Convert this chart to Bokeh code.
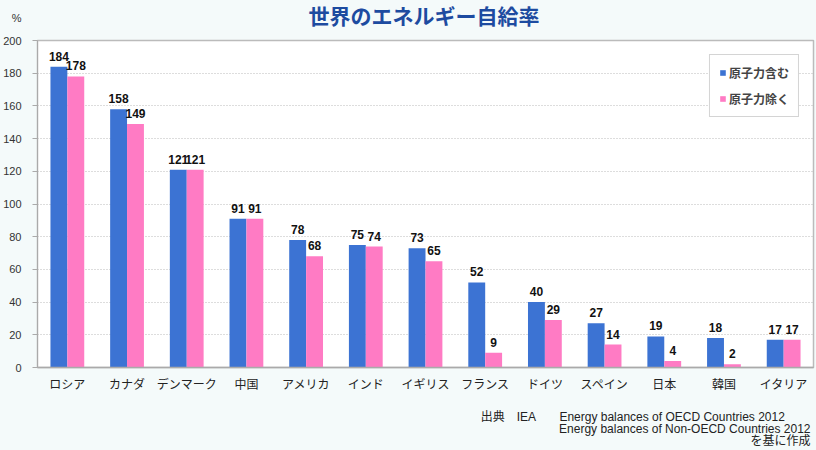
from bokeh.plotting import figure
from bokeh.models import (ColumnDataSource, Range1d, FactorRange, Legend, LegendItem,
                          LabelSet, SingleIntervalTicker, Title)
from bokeh.core.properties import value
from bokeh.transform import dodge
from bokeh.embed import file_html
from bokeh.resources import INLINE

countries = ["ロシア", "カナダ", "デンマーク", "中国", "アメリカ", "インド", "イギリス",
             "フランス", "ドイツ", "スペイン", "日本", "韓国", "イタリア"]
with_nuclear = [184, 158, 121, 91, 78, 75, 73, 52, 40, 27, 19, 18, 17]
without_nuclear = [178, 149, 121, 91, 68, 74, 65, 9, 29, 14, 4, 2, 17]
series_names = ["原子力含む", "原子力除く"]
title_text = "世界のエネルギー自給率"
unit_text = "%"
source_lines = ["出典　IEA　　Energy balances of OECD Countries 2012",
                "Energy balances of Non-OECD Countries 2012", "を基に作成"]

BLUE = "#3c73d3"
PINK = "#ff7bc4"
BG = "#f4fafa"
JP = "Noto Sans CJK JP"
NUM = "Liberation Sans"
MIX = "Liberation Sans, Noto Sans CJK JP"

src = ColumnDataSource(dict(
    c=countries, a=with_nuclear, b=without_nuclear,
    la=[str(v) for v in with_nuclear], lb=[str(v) for v in without_nuclear],
))

p = figure(x_range=FactorRange(*countries, range_padding=0), y_range=Range1d(0, 200),
           width=816, height=450, output_backend="svg", toolbar_location=None,
           min_border_left=35, min_border_right=3, min_border_top=40, min_border_bottom=83)
p.background_fill_color = "white"
p.border_fill_color = BG
p.outline_line_color = "#bbbbbb"
p.outline_line_width = 1.5
p.title.text = ""

# spacer + main title above the frame
p.add_layout(Title(text="\u3000", text_font_size="1px", standoff=12,
                   text_color=BG), "above")
p.add_layout(Title(text=title_text, align="left", offset=271, standoff=-8,
                   text_font=JP, text_font_size="21px", text_font_style="bold",
                   text_color="#1d4ba0"), "above")

bw = 0.283
r1 = p.vbar(x=dodge("c", -bw / 2, range=p.x_range), top="a", width=bw, source=src,
            fill_color=BLUE, line_color=None)
r2 = p.vbar(x=dodge("c", bw / 2, range=p.x_range), top="b", width=bw, source=src,
            fill_color=PINK, line_color=None)

for col, lab, off in (("a", "la", -bw / 2), ("b", "lb", bw / 2)):
    ls = LabelSet(x=dodge("c", off, range=p.x_range), y=col, text=lab, source=src,
                  text_align="center", text_baseline="bottom", y_offset=6,
                  text_font=value(NUM), text_font_size=value("12px"), text_color="#111111",
                  text_font_style="bold")
    p.add_layout(ls)

# axes
p.yaxis.ticker = SingleIntervalTicker(interval=20)
p.yaxis.major_label_overrides = {200: unit_text + "\n \n200\n \n "}
p.yaxis.major_label_text_line_height = 0.95
p.yaxis.major_label_text_font = NUM
p.yaxis.major_label_text_font_size = "11px"
p.yaxis.major_label_text_color = "#333333"
p.yaxis.axis_line_color = "#aaaaaa"
p.yaxis.major_tick_line_color = "#aaaaaa"
p.yaxis.major_tick_out = 5
p.yaxis.major_tick_in = 0
p.yaxis.minor_tick_line_color = None
p.yaxis.major_label_standoff = 11

p.xaxis.major_label_text_font = JP
p.xaxis.major_label_text_font_size = "12px"
p.xaxis.major_label_text_color = "#222222"
p.xaxis.axis_line_color = "#aaaaaa"
p.xaxis.axis_line_width = 1.5
p.xaxis.major_tick_line_color = None
p.xaxis.minor_tick_line_color = None
p.xaxis.major_label_standoff = 1

p.xgrid.grid_line_color = None
p.ygrid.grid_line_color = "#bbbbbb"
p.ygrid.grid_line_dash = "1 2"

legend = Legend(items=[LegendItem(label=series_names[0], renderers=[r1]),
                       LegendItem(label=series_names[1], renderers=[r2])],
                location="top_right", margin=14, padding=9, spacing=9,
                glyph_width=7, glyph_height=7, label_standoff=3,
                label_text_font=JP, label_text_font_size="12px",
                label_text_font_style="bold",
                border_line_color="#aaaaaa", background_fill_color="white",
                background_fill_alpha=1)
p.add_layout(legend)

# source note below the plot: spacer, then one title per line
p.add_layout(Title(text="\u3000", text_font_size="1px", standoff=12, text_color=BG), "below")
note_style = dict(align="right", text_font=MIX, text_font_size="12px",
                  text_font_style="normal", text_color="#222222", standoff=-4)
p.add_layout(Title(text=source_lines[0], offset=28, **note_style), "below")
p.add_layout(Title(text=source_lines[1], offset=3, **note_style), "below")
p.add_layout(Title(text=source_lines[2], offset=3, **note_style), "below")

html = file_html(p, INLINE)
html = html.replace("<body>", '<body style="margin:0;background:%s">' % BG)
open("out.html", "w").write(html)
